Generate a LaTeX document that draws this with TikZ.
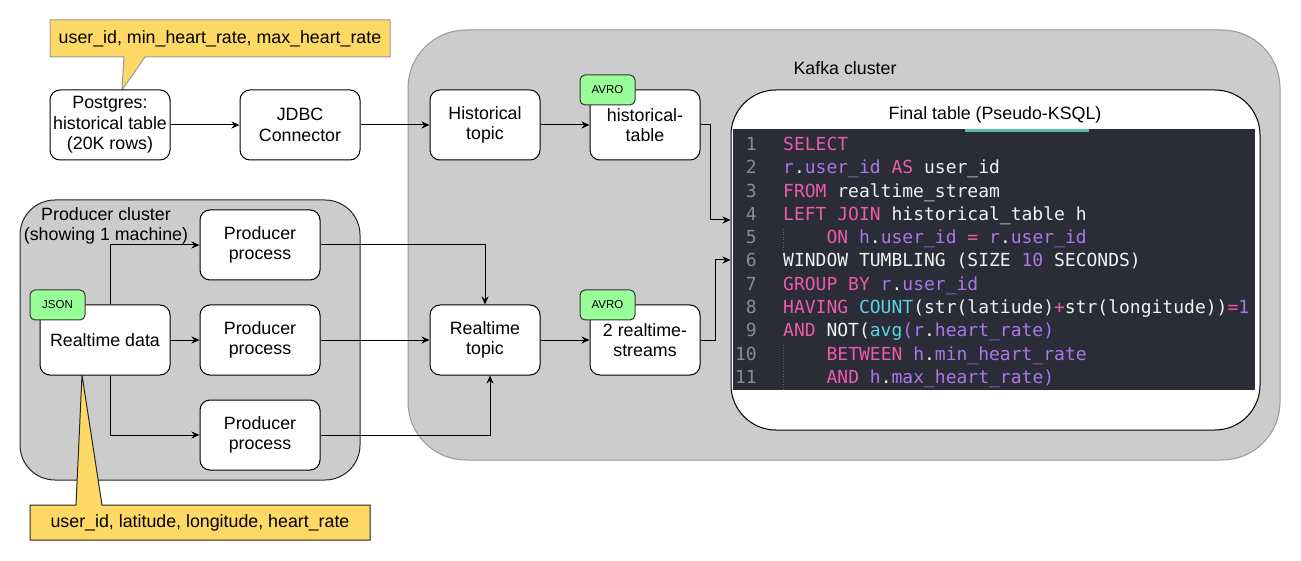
\documentclass[tikz,border=0pt]{standalone}
\usepackage{fontspec}
\setmainfont{Liberation Sans}
\newfontfamily\codefont{DejaVu Sans Mono}
\usetikzlibrary{arrows.meta,calc}
\definecolor{clustergray}{HTML}{CCCCCC}
\definecolor{kafkastroke}{HTML}{999999}
\definecolor{taggreen}{HTML}{99FF99}
\definecolor{noteyellow}{HTML}{FFD966}
\definecolor{codebgc}{HTML}{2A2C37}
\definecolor{codepink}{HTML}{EE5AAA}
\definecolor{codepurple}{HTML}{AA78E6}
\definecolor{codecyan}{HTML}{5AD2E6}
\definecolor{codewhite}{HTML}{F2F2F2}
\definecolor{codenum}{HTML}{8C8C8C}
\definecolor{tealline}{HTML}{5BB8AE}
\newcommand{\ckw}[1]{\textcolor{codepink}{#1}}
\newcommand{\cpu}[1]{\textcolor{codepurple}{#1}}
\newcommand{\ccy}[1]{\textcolor{codecyan}{#1}}
\tikzset{
  mainfont/.style={font=\fontsize{17.8pt}{20.5pt}\selectfont},
  procbox/.style={draw=black, fill=white, line width=1pt, rounded corners=10pt,
    minimum width=120pt, minimum height=70pt, align=center, inner sep=0pt, mainfont},
  topicbox/.style={procbox, minimum width=110pt},
  tagbox/.style={draw=black!80, fill=taggreen, line width=1pt, rounded corners=5pt,
    minimum width=55pt, minimum height=30pt, inner sep=0pt, font=\fontsize{11.5pt}{13pt}\selectfont},
  arr/.style={-{Stealth[length=8pt,width=7pt]}, line width=1pt, draw=black},
  codeline/.style={anchor=base west, inner sep=0pt, text=codewhite, font=\codefont\fontsize{18pt}{22pt}\selectfont},
  codenumber/.style={anchor=base east, inner sep=0pt, text=codenum, font=\codefont\fontsize{18pt}{22pt}\selectfont},
  notetext/.style={inner sep=0pt, mainfont},
}
\begin{document}
\begin{tikzpicture}[x=1pt,y=-1pt]
\useasboundingbox (0,0) rectangle (1301,561);
\fill[white] (0,0) rectangle (1301,561);

% clusters
\draw[fill=clustergray, draw=kafkastroke, line width=1pt, rounded corners=58pt] (408,30) rectangle (1280,460);
\node[mainfont, inner sep=0pt] (kafkalabel) at (845,68) {Kafka cluster};
\draw[fill=clustergray, draw=black!85, line width=1pt, rounded corners=35pt] (20,200) rectangle (360,480);
\node[mainfont, inner sep=0pt, align=center] (prodlabel) at (106,226) {Producer cluster\\(showing 1 machine)};

% top callout
\draw[fill=noteyellow, draw=kafkastroke, line width=1pt] (50,20) -- (390,20) -- (390,57) -- (145,57) -- (122,90) -- (124,57) -- (50,57) -- cycle;
\node[notetext] (note1) at (220,38.5) {user\_id, min\_heart\_rate, max\_heart\_rate};

% nodes
\node[procbox] (pg) at (110,125) {Postgres:\\historical table\\(20K rows)};
\node[procbox] (jdbc) at (300,125) {JDBC\\Connector};
\node[topicbox] (histtopic) at (485,125) {Historical\\topic};
\node[topicbox] (histtable) at (645,125) {historical-\\table};
\node[tagbox] (avro1) at (607.5,90) {AVRO};
\node[topicbox] (rttopic) at (485,340) {Realtime\\topic};
\node[topicbox] (streams) at (645,340) {2 realtime-\\streams};
\node[tagbox] (avro2) at (607.5,305) {AVRO};

\node[procbox, minimum width=130pt] (rt) at (105,340) {Realtime data};
\node[tagbox] (json) at (57.5,305) {JSON};
\node[procbox] (prod1) at (260,245) {Producer\\process};
\node[procbox] (prod2) at (260,340) {Producer\\process};
\node[procbox] (prod3) at (260,435) {Producer\\process};

% bottom callout
\draw[fill=noteyellow, draw=black!85, line width=1pt] (30,505) -- (76,505) -- (82,375) -- (102,505) -- (370,505) -- (370,540) -- (30,540) -- cycle;
\node[notetext] (note2) at (200,522.5) {user\_id, latitude, longitude, heart\_rate};

% final table
\node[draw=black, fill=white, line width=1pt, rounded corners=45pt, minimum width=529pt, minimum height=340pt, inner sep=0pt] (final) at (995.5,260) {};
\node[mainfont, inner sep=0pt] (finaltitle) at (995,115) {Final table (Pseudo-KSQL)};
\node[fill=codebgc, minimum width=522pt, minimum height=261pt, inner sep=0pt] (code) at (994,259.5) {};
\draw[tealline, line width=3pt] (965,130.5) -- (1089,130.5);
\draw[black!60, line width=0.6pt, dotted] (783,229) -- (783,251);
\draw[black!60, line width=0.6pt, dotted] (783,345) -- (783,390);

\node[codenumber] (n1) at (757,150.5) {1};
\node[codenumber] (n2) at (757,173.8) {2};
\node[codenumber] (n3) at (757,197.1) {3};
\node[codenumber] (n4) at (757,220.4) {4};
\node[codenumber] (n5) at (757,243.7) {5};
\node[codenumber] (n6) at (757,267.0) {6};
\node[codenumber] (n7) at (757,290.3) {7};
\node[codenumber] (n8) at (757,313.6) {8};
\node[codenumber] (n9) at (757,336.9) {9};
\node[codenumber] (n10) at (757,360.2) {10};
\node[codenumber] (n11) at (757,383.5) {11};

\node[codeline] (c1) at (783,150.5) {\ckw{SELECT}};
\node[codeline] (c2) at (783,173.8) {\cpu{r}.\cpu{user\_id} \ckw{AS} user\_id};
\node[codeline] (c3) at (783,197.1) {\ckw{FROM} realtime\_stream};
\node[codeline] (c4) at (783,220.4) {\ckw{LEFT JOIN} historical\_table h};
\node[codeline] (c5) at (826.4,243.7) {\ckw{ON} \cpu{h}.\cpu{user\_id} \ckw{=} \cpu{r}.\cpu{user\_id}};
\node[codeline] (c6) at (783,267.0) {WINDOW TUMBLING (SIZE \cpu{10} SECONDS)};
\node[codeline] (c7) at (783,290.3) {\ckw{GROUP BY} \cpu{r}.\cpu{user\_id}};
\node[codeline] (c8) at (783,313.6) {\ckw{HAVING} \ccy{COUNT}(str(latiude)\ckw{+}str(longitude))\ckw{=}\cpu{1}};
\node[codeline] (c9) at (783,336.9) {\ckw{AND} NOT(\ccy{avg}\cpu{(r}.\cpu{heart\_rate)}};
\node[codeline] (c10) at (826.4,360.2) {\ckw{BETWEEN} \cpu{h}.\cpu{min\_heart\_rate}};
\node[codeline] (c11) at (826.4,383.5) {\ckw{AND} \cpu{h}.\cpu{max\_heart\_rate)}};

% connectors
\draw[arr] (pg) -- (jdbc);
\draw[arr] (jdbc) -- (histtopic);
\draw[arr] (histtopic) -- (histtable);
\draw[arr] (histtable.east) -- (710,125) -- (710,220) -- (final.west |- 0,220);
\draw[arr] (streams.east) -- (715,340) -- (715,260) -- (final.west |- 0,260);
\draw[arr] (rttopic) -- (streams);
\draw[arr] (prod1.east) -| (rttopic.north);
\draw[arr] (prod2.east) -- (rttopic.west);
\draw[arr] (prod3.east) -| ([xshift=5pt]rttopic.south);
\draw[arr] ([xshift=5pt]rt.north) |- (prod1.west);
\draw[arr] (rt.east) -- (prod2.west);
\draw[arr] ([xshift=5pt]rt.south) |- (prod3.west);
\end{tikzpicture}
\end{document}
